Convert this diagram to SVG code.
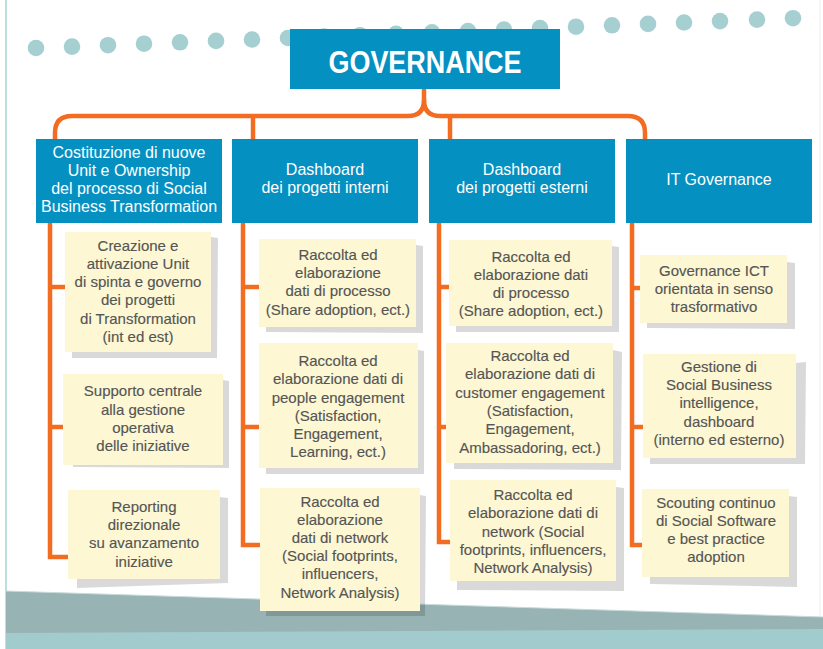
<svg xmlns="http://www.w3.org/2000/svg" width="823" height="649" viewBox="0 0 823 649">
  <defs>
    <style>
      .dot { fill: #a6cfd1; }
      .head { fill: #0590c2; }
      .headtxt { font-family: "Liberation Sans", Arial, sans-serif; font-size: 16px; fill: #ffffff; text-anchor: middle; }
      .note { fill: #fdf8d3; }
      .shadow { fill: #000000; fill-opacity: 0.15; }
      .notetxt { font-family: "Liberation Sans", Arial, sans-serif; font-size: 15px; fill: #555555; stroke: #555555; stroke-width: 0.15; text-anchor: middle; }
      .wire { fill: none; stroke: #f26d21; stroke-width: 4.5; stroke-linejoin: miter; stroke-linecap: butt; }
    </style>
  </defs>

  <!-- page background and frame lines -->
  <rect x="0" y="0" width="823" height="649" fill="#ffffff"/>
  <line x1="6" y1="0" x2="6" y2="649" stroke="#a8d5d4" stroke-width="1.5"/>
  <line x1="820" y1="0" x2="820" y2="649" stroke="#efefef" stroke-width="1"/>

  <!-- bottom bands -->
  <polygon points="6,591 823,617 823,649 6,649" fill="#98b3b3"/>
  <line x1="6" y1="591" x2="823" y2="617" stroke="#c9dada" stroke-width="1"/>
  <polygon points="6,633 823,629 823,649 6,649" fill="#a2cbce"/>

  <!-- rising row of dots -->
  <g id="dots">
    <circle class="dot" cx="36" cy="48" r="8.3"/>
    <circle class="dot" cx="72" cy="46.6" r="8.3"/>
    <circle class="dot" cx="108" cy="45.2" r="8.3"/>
    <circle class="dot" cx="144" cy="43.7" r="8.3"/>
    <circle class="dot" cx="180" cy="42.3" r="8.3"/>
    <circle class="dot" cx="216" cy="40.9" r="8.3"/>
    <circle class="dot" cx="252" cy="39.5" r="8.3"/>
    <circle class="dot" cx="288" cy="38" r="8.3"/>
    <circle class="dot" cx="324" cy="36.6" r="8.3"/>
    <circle class="dot" cx="360" cy="35.2" r="8.3"/>
    <circle class="dot" cx="396" cy="33.8" r="8.3"/>
    <circle class="dot" cx="432" cy="32.4" r="8.3"/>
    <circle class="dot" cx="468" cy="31" r="8.3"/>
    <circle class="dot" cx="504" cy="29.6" r="8.3"/>
    <circle class="dot" cx="540" cy="28.1" r="8.3"/>
    <circle class="dot" cx="576" cy="26.7" r="8.3"/>
    <circle class="dot" cx="612" cy="25.3" r="8.3"/>
    <circle class="dot" cx="648" cy="23.9" r="8.3"/>
    <circle class="dot" cx="684" cy="22.5" r="8.3"/>
    <circle class="dot" cx="720" cy="21.1" r="8.3"/>
    <circle class="dot" cx="757" cy="19.6" r="8.3"/>
    <circle class="dot" cx="793" cy="18.2" r="8.3"/>
  </g>

  <!-- connectors -->
  <g id="connectors">
    <path class="wire" d="M424,89 V100 Q424,116 408,116 H72 Q55,116 55,133 V139"/>
    <path class="wire" d="M424,100 Q424,116 440,116 H628 Q645,116 645,133 V139"/>
    <path class="wire" d="M253,116 V139"/>
    <path class="wire" d="M450,116 V139"/>

    <path class="wire" d="M50,222 V557 H70"/>
    <path class="wire" d="M50,287 H67"/>
    <path class="wire" d="M50,427 H65"/>

    <path class="wire" d="M243,222 V545 H262"/>
    <path class="wire" d="M243,287 H261"/>
    <path class="wire" d="M243,427 H261"/>

    <path class="wire" d="M439,222 V542 H452"/>
    <path class="wire" d="M439,287 H451"/>
    <path class="wire" d="M439,427 H448"/>

    <path class="wire" d="M632,222 V545 H644"/>
    <path class="wire" d="M632,288 H642"/>
    <path class="wire" d="M632,427 H645"/>
  </g>

  <!-- root -->
  <g id="governance">
    <rect class="head" x="290" y="29" width="270" height="60"/>
    <text x="425" y="73" font-family="Liberation Sans, Arial, sans-serif" font-size="32" font-weight="bold" fill="#ffffff" text-anchor="middle" textLength="193" lengthAdjust="spacingAndGlyphs">GOVERNANCE</text>
  </g>

  <!-- column headers -->
  <g id="h-costituzione">
    <rect class="head" x="36" y="139" width="186" height="84"/>
    <text class="headtxt" x="129" y="158">Costituzione di nuove</text>
    <text class="headtxt" x="129" y="176">Unit e Ownership</text>
    <text class="headtxt" x="129" y="194">del processo di Social</text>
    <text class="headtxt" x="129" y="212">Business Transformation</text>
  </g>
  <g id="h-dashboard-interni">
    <rect class="head" x="232" y="139" width="186" height="84"/>
    <text class="headtxt" x="325" y="175">Dashboard</text>
    <text class="headtxt" x="325" y="193">dei progetti interni</text>
  </g>
  <g id="h-dashboard-esterni">
    <rect class="head" x="429" y="139" width="186" height="84"/>
    <text class="headtxt" x="522" y="175">Dashboard</text>
    <text class="headtxt" x="522" y="193">dei progetti esterni</text>
  </g>
  <g id="h-it-governance">
    <rect class="head" x="626" y="139" width="186" height="84"/>
    <text class="headtxt" x="719" y="185">IT Governance</text>
  </g>

  <!-- column 1 notes -->
  <g id="n-creazione">
    <polygon class="shadow" points="211,237 218,238 217,358 72,358 72,352 211,352"/>
    <rect class="note" x="65" y="232" width="146" height="120"/>
    <text class="notetxt" x="138" y="251">Creazione e</text>
    <text class="notetxt" x="138" y="269">attivazione Unit</text>
    <text class="notetxt" x="138" y="287">di spinta e governo</text>
    <text class="notetxt" x="138" y="305">dei progetti</text>
    <text class="notetxt" x="138" y="324">di Transformation</text>
    <text class="notetxt" x="138" y="342">(int ed est)</text>
  </g>
  <g id="n-supporto">
    <polygon class="shadow" points="223,380 229,381 229,468 73,467 73,465 223,465"/>
    <rect class="note" x="63" y="374" width="160" height="91"/>
    <text class="notetxt" x="143" y="396">Supporto centrale</text>
    <text class="notetxt" x="143" y="415">alla gestione</text>
    <text class="notetxt" x="143" y="433">operativa</text>
    <text class="notetxt" x="143" y="451">delle iniziative</text>
  </g>
  <g id="n-reporting">
    <polygon class="shadow" points="220,497 228,498 228,583 77,588 77,579 220,579"/>
    <rect class="note" x="68" y="490" width="152" height="89"/>
    <text class="notetxt" x="144" y="512">Reporting</text>
    <text class="notetxt" x="144" y="530">direzionale</text>
    <text class="notetxt" x="144" y="548">su avanzamento</text>
    <text class="notetxt" x="144" y="567">iniziative</text>
  </g>

  <!-- column 2 notes -->
  <g id="n-processo-int">
    <polygon class="shadow" points="416,245 423,246 423,333 266,332 266,327 416,327"/>
    <rect class="note" x="259" y="239" width="157" height="88"/>
    <text class="notetxt" x="338" y="260">Raccolta ed</text>
    <text class="notetxt" x="338" y="278">elaborazione</text>
    <text class="notetxt" x="338" y="296">dati di processo</text>
    <text class="notetxt" x="338" y="315">(Share adoption, ect.)</text>
  </g>
  <g id="n-people">
    <polygon class="shadow" points="418,350 424,351 424,474 266,474 266,468 418,468"/>
    <rect class="note" x="259" y="343" width="159" height="125"/>
    <text class="notetxt" x="338" y="366">Raccolta ed</text>
    <text class="notetxt" x="338" y="384">elaborazione dati di</text>
    <text class="notetxt" x="338" y="403">people engagement</text>
    <text class="notetxt" x="338" y="421">(Satisfaction,</text>
    <text class="notetxt" x="338" y="439">Engagement,</text>
    <text class="notetxt" x="338" y="457">Learning, ect.)</text>
  </g>
  <g id="n-network-int">
    <polygon class="shadow" points="420,495 426,496 425,616 266,616 266,611 420,611"/>
    <rect class="note" x="260" y="488" width="160" height="123"/>
    <text class="notetxt" x="340" y="507">Raccolta ed</text>
    <text class="notetxt" x="340" y="525">elaborazione</text>
    <text class="notetxt" x="340" y="543">dati di network</text>
    <text class="notetxt" x="340" y="561">(Social footprints,</text>
    <text class="notetxt" x="340" y="579">influencers,</text>
    <text class="notetxt" x="340" y="598">Network Analysis)</text>
  </g>

  <!-- column 3 notes -->
  <g id="n-processo-est">
    <polygon class="shadow" points="612,246 619,247 619,332 456,332 456,326 612,326"/>
    <rect class="note" x="449" y="240" width="163" height="86"/>
    <text class="notetxt" x="531" y="262">Raccolta ed</text>
    <text class="notetxt" x="531" y="280">elaborazione dati</text>
    <text class="notetxt" x="531" y="298">di processo</text>
    <text class="notetxt" x="531" y="316">(Share adoption, ect.)</text>
  </g>
  <g id="n-customer">
    <polygon class="shadow" points="613,350 622,352 621,470 454,469 454,463 613,463"/>
    <rect class="note" x="446" y="343" width="167" height="120"/>
    <text class="notetxt" x="530" y="361">Raccolta ed</text>
    <text class="notetxt" x="530" y="379">elaborazione dati di</text>
    <text class="notetxt" x="530" y="398">customer engagement</text>
    <text class="notetxt" x="530" y="416">(Satisfaction,</text>
    <text class="notetxt" x="530" y="434">Engagement,</text>
    <text class="notetxt" x="530" y="453">Ambassadoring, ect.)</text>
  </g>
  <g id="n-network-est">
    <polygon class="shadow" points="616,487 624,488 624,591 457,590 457,581 616,581"/>
    <rect class="note" x="450" y="480" width="166" height="101"/>
    <text class="notetxt" x="533" y="500">Raccolta ed</text>
    <text class="notetxt" x="533" y="518">elaborazione dati di</text>
    <text class="notetxt" x="533" y="537">network (Social</text>
    <text class="notetxt" x="533" y="555">footprints, influencers,</text>
    <text class="notetxt" x="533" y="573">Network Analysis)</text>
  </g>

  <!-- column 4 notes -->
  <g id="n-ict">
    <polygon class="shadow" points="787,262 795,263 795,329 647,328 647,323 787,323"/>
    <rect class="note" x="640" y="255" width="147" height="68"/>
    <text class="notetxt" x="714" y="276">Governance ICT</text>
    <text class="notetxt" x="714" y="294">orientata in senso</text>
    <text class="notetxt" x="714" y="312">trasformativo</text>
  </g>
  <g id="n-intelligence">
    <polygon class="shadow" points="796,363 806,362 805,464 650,464 650,458 796,458"/>
    <rect class="note" x="643" y="354" width="153" height="104"/>
    <text class="notetxt" x="719" y="372">Gestione di</text>
    <text class="notetxt" x="719" y="390">Social Business</text>
    <text class="notetxt" x="719" y="408">intelligence,</text>
    <text class="notetxt" x="719" y="427">dashboard</text>
    <text class="notetxt" x="719" y="445">(interno ed esterno)</text>
  </g>
  <g id="n-scouting">
    <polygon class="shadow" points="789,496 797,497 797,587 650,584 650,577 789,577"/>
    <rect class="note" x="642" y="489" width="147" height="88"/>
    <text class="notetxt" x="716" y="508">Scouting continuo</text>
    <text class="notetxt" x="716" y="526">di Social Software</text>
    <text class="notetxt" x="716" y="544">e best practice</text>
    <text class="notetxt" x="716" y="562">adoption</text>
  </g>
</svg>
